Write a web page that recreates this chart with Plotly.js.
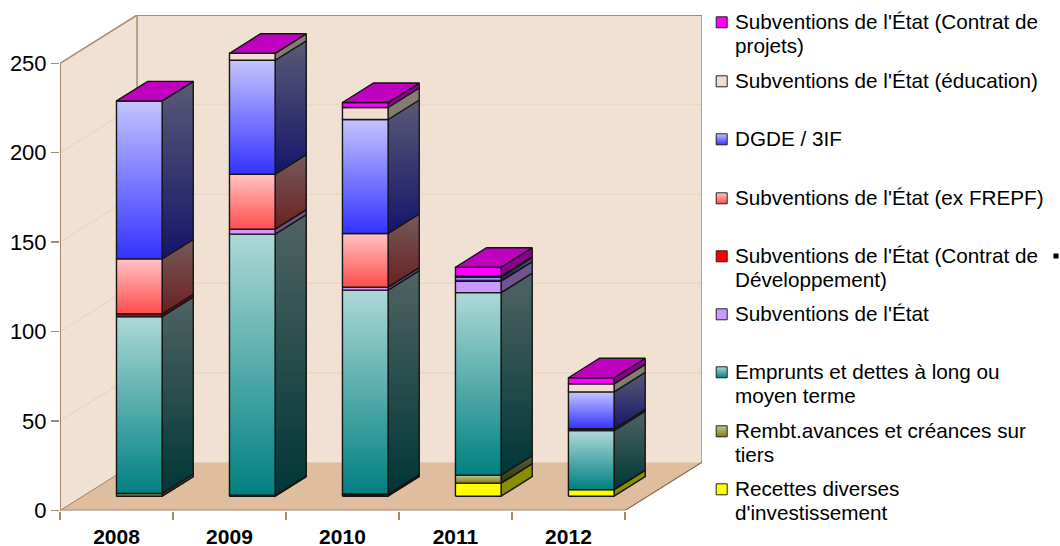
<!DOCTYPE html>
<html><head><meta charset="utf-8">
<script src="https://cdn.plot.ly/plotly-3.0.1.min.js"></script>
<style>html,body{margin:0;padding:0;background:#fff}</style></head>
<body><div id="chart" style="width:1060px;height:546px"></div>
<script>
const categories = ['2008','2009','2010','2011','2012'];
const yTicks = [0,50,100,150,200,250];
const gridValues = [50,100,150,200];
// stacked from the bottom upward
const recettes   = [0,   0,   0.5, 7.3, 3.7];
const rembt      = [1.5, 0.5, 0.7, 4.5, 0];
const emprunts   = [99,  146, 114, 102, 33];
const subvEtat   = [0,   2.8, 1.7, 6.5, 1];
const contratDev = [1.5, 0,   0,   0,   0];
const exFrepf    = [30.7,30.7,30,  0,   0];
const dgde       = [88.3,63.7,63.7,2.2, 20.6];
const education  = [0,   3.9, 6.7, 0.5, 4.5];
const projets    = [0,   0,   2.8, 5,   3.4];

const seriesValues = [recettes,rembt,emprunts,subvEtat,contratDev,exFrepf,dgde,education,projets];
const seriesBottom = ['#ffff00','#808000','#008080','#cc99ff','#ff0000','#ff4d4d','#3333ff','#f0dfd0','#ff00ff'];
const seriesTop    = ['#ffff00','#c4c49a','#aed8d8','#cc99ff','#ff0000','#ffc4c4','#c4c4ff','#f0dfd0','#ff00ff'];
const seriesLabels = ["Recettes diverses<br>d'investissement","Rembt.avances et créances sur<br>tiers",
 "Emprunts et dettes à long ou<br>moyen terme","Subventions de l'État",
 "Subventions de l'État (Contrat de<br>Développement)","Subventions de l'État (ex FREPF)","DGDE / 3IF",
 "Subventions de l'État (éducation)","Subventions de l'État (Contrat de<br>projets)"];
const legendY = [489,431,372,314,256,198,139,81,22];

const depthX = 0.682, depthY = 27, yMax = 250 + depthY, xMax = 5 + depthX;
const zFront = 0.296, zBack = 0.70, barHalf = 0.202;
const edge = '#a58a70', wall = '#f1e1d3', floorC = '#debe9e', gridC = '#ebd8c4';
const fontFamily = 'Liberation Sans, Arial, sans-serif';

function shade(hex,f){const n=parseInt(hex.slice(1),16);
  const c=[n>>16,(n>>8)&255,n&255].map(v=>Math.round(v*f));
  return 'rgb('+c.join(',')+')';}
const traces = [];
function poly(x,y,fill,line,width){
  const t={type:'scatter',mode:width?'lines':'none',x:x,y:y,fill:'toself',hoverinfo:'skip',showlegend:false,
    line:{color:line||'rgba(0,0,0,0)',width:width||0}};
  if(Array.isArray(fill)) t.fillgradient={type:'vertical',colorscale:[[0,fill[0]],[1,fill[1]]]};
  else t.fillcolor=fill;
  traces.push(t);
}
function seg(x,y,color,width){traces.push({type:'scatter',mode:'lines',x:x,y:y,hoverinfo:'skip',showlegend:false,cliponaxis:false,line:{color:color,width:width||1.5}});}

// walls and floor
poly([0,depthX,depthX,0,0],[0,depthY,250+depthY,250,0],wall);
poly([depthX,xMax,xMax,depthX,depthX],[depthY,depthY,250+depthY,250+depthY,depthY],wall);
poly([0,5,xMax,depthX,0],[0,0,depthY,depthY,0],floorC);
gridValues.forEach(v=>seg([0,depthX,xMax],[v,v+depthY,v+depthY],gridC,1.5));
seg([0,0],[0,250],edge,2);
seg([0,depthX],[250,250+depthY],edge,1.5);
seg([depthX,depthX],[depthY,250+depthY],edge,1.5);
seg([depthX,xMax],[250+depthY,250+depthY],edge,2);
seg([xMax,xMax],[depthY,250+depthY],edge,1.5);
seg([0,depthX],[0,depthY],'#a07e5e',1);
seg([5,xMax],[0,depthY],'#8a6c50',1.2);
seg([0,5],[0,0],edge,2);

// bars
categories.forEach((c,i)=>{
  const cx=i+0.5, l=cx-barHalf+zFront*depthX, r=cx+barHalf+zFront*depthX;
  const dx=(zBack-zFront)*depthX, y0=zFront*depthY, dy=(zBack-zFront)*depthY;
  let base=0;
  seriesValues.forEach((vals,s)=>{
    const top=base+vals[i], a=y0+base, b=y0+top;
    const bot=seriesBottom[s], tp=seriesTop[s];
    const line='#151515';
    const flat = vals[i]===0 || bot===tp;
    poly([r,r+dx,r+dx,r,r],[a,a+dy,b+dy,b,a],
         flat?shade(bot,0.55):[shade(bot,0.42),shade(tp,0.46)],line,1.4);
    poly([l,r,r,l,l],[a,a,b,b,a],flat?bot:[bot,tp],line,1.4);
    if(s===seriesValues.length-1)
      poly([l,r,r+dx,l+dx,l],[b,b,b+dy,b+dy,b],shade(bot,0.75),line,1.4);
    base=top;
  });
});

// legend keys on a pixel-based axis pair that spans the whole page
seriesLabels.forEach((t,s)=>{
  traces.push({type:'scatter',mode:'markers',xaxis:'x2',yaxis:'y2',x:[721.7],y:[legendY[s]+0.3],hoverinfo:'skip',showlegend:false,
    marker:{symbol:'square',size:11,color:seriesTop[s],gradient:{type:'vertical',color:seriesBottom[s]},line:{color:'#222',width:1}}});
});
traces.push({type:'scatter',mode:'markers',xaxis:'x2',yaxis:'y2',x:[1056],y:[256],hoverinfo:'skip',showlegend:false,
  marker:{symbol:'square',size:5,color:'#000'}});

const annotations = [];
seriesLabels.forEach((t,s)=>{
  t.split('<br>').forEach((lineText,k)=>{
    annotations.push({xref:'paper',yref:'paper',x:734/1060,y:1-(legendY[s]-0.8+k*24.5)/546,
      xanchor:'left',yanchor:'middle',align:'left',text:lineText,showarrow:false,borderpad:0,
      font:{family:fontFamily,size:20.7,color:'#000'}});
  });
});

Plotly.newPlot('chart',traces,{
  width:1060,height:546,margin:{l:0,r:0,t:0,b:0},paper_bgcolor:'#fff',plot_bgcolor:'rgba(0,0,0,0)',showlegend:false,
  xaxis:{domain:[60/1060,702/1060],range:[0,xMax],showgrid:false,zeroline:false,showline:false,automargin:false,
    tickmode:'array',tickvals:categories.map((c,i)=>i+0.5),ticktext:categories,ticks:'',ticklabelstandoff:11,
    tickfont:{family:fontFamily,size:21,color:'#000',weight:'bold'},
    minor:{tickmode:'array',tickvals:[0,1,2,3,4,5],ticks:'outside',ticklen:8,tickcolor:edge,tickwidth:1.5,showgrid:false}},
  yaxis:{domain:[35.5/546,531/546],range:[0,yMax],showgrid:false,zeroline:false,showline:false,automargin:false,
    tickmode:'array',tickvals:yTicks,ticktext:yTicks.map(String),ticks:'outside',ticklen:8,tickcolor:edge,tickwidth:1.5,
    tickfont:{family:fontFamily,size:22,color:'#000'}},
  xaxis2:{domain:[0,1],range:[0,1060],visible:false,anchor:'y2'},
  yaxis2:{domain:[0,1],range:[546,0],visible:false,anchor:'x2'},
  annotations:annotations
},{displayModeBar:false,staticPlot:true});
</script></body></html>
